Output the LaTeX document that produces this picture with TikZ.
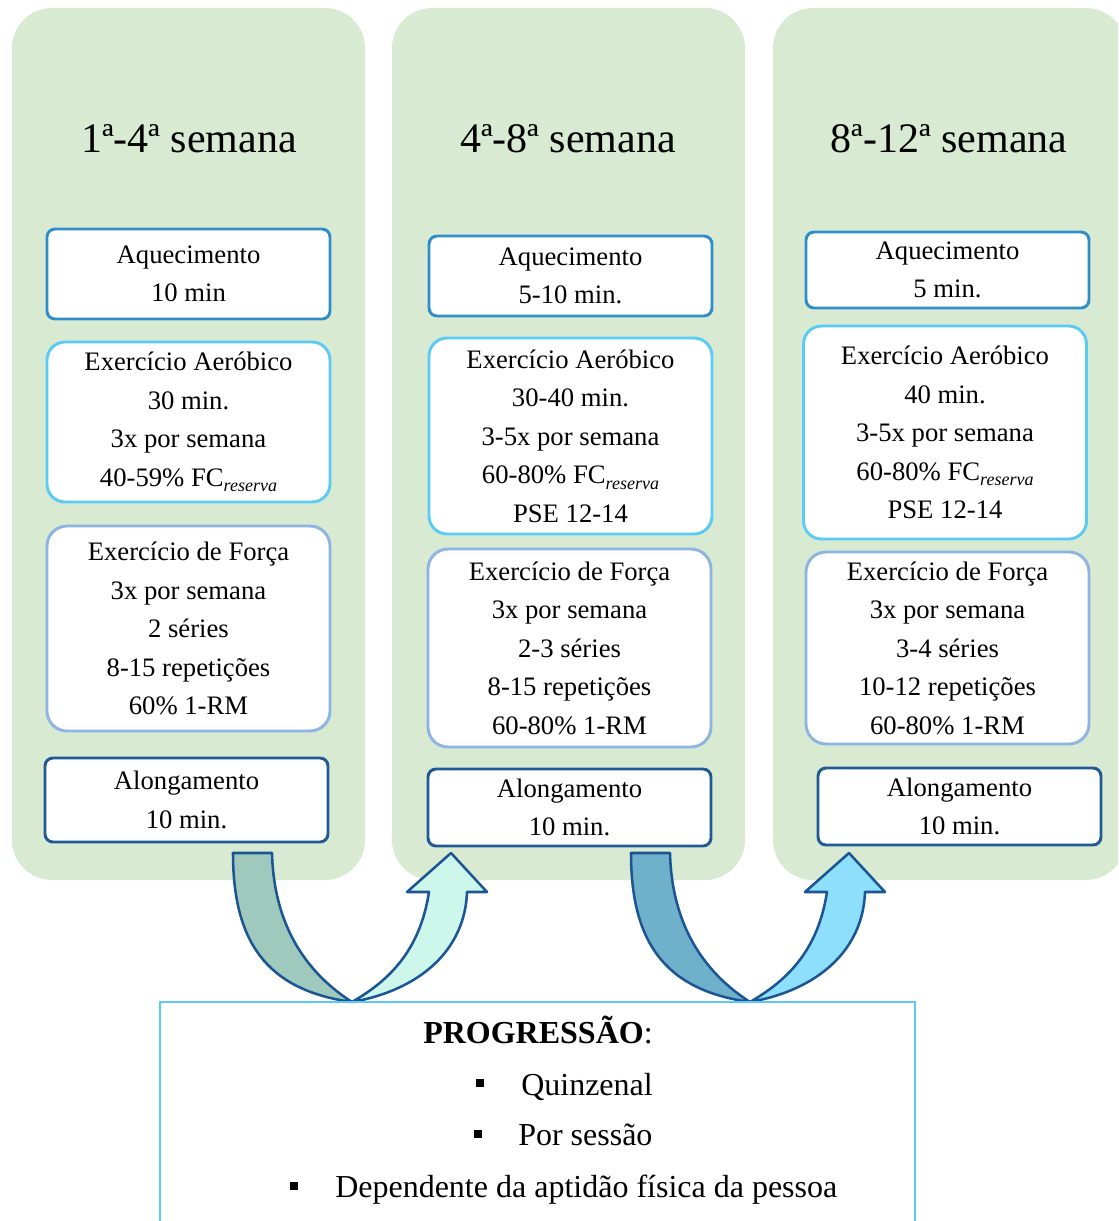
\documentclass[tikz,border=0pt]{standalone}
\usepackage{fontspec}
\setmainfont{Liberation Serif}
\definecolor{colgreen}{HTML}{D9EAD3}
\definecolor{bdaq}{HTML}{2F8DC8}
\definecolor{bdae}{HTML}{5BCBF5}
\definecolor{bdfo}{HTML}{8DB4E2}
\definecolor{bdal}{HTML}{1F5A96}
\definecolor{arrowline}{HTML}{1B5594}
\definecolor{fillA}{HTML}{A0C9BE}
\definecolor{fillB}{HTML}{CCF7EA}
\definecolor{fillC}{HTML}{6FB1CB}
\definecolor{fillD}{HTML}{8EDFFC}
\definecolor{probd}{HTML}{5BC8F5}
\def\px{0.75pt}
\newcommand{\fcres}{FC\raisebox{-0.45ex}{\fontsize{13.5}{14}\selectfont\itshape reserva}}
\begin{document}
\begin{tikzpicture}[x=0.75pt,y=-0.75pt,
  column/.style={fill=colgreen, rounded corners=30pt},
  title/.style={anchor=base, inner sep=0pt, font=\fontsize{31.5}{36}\selectfont},
  card/.style={draw, fill=white, line width=2.2pt, align=center, inner sep=0pt,
    minimum width=283*\px, font=\fontsize{20}{28.9}\selectfont},
  aq/.style={card, draw=bdaq, rounded corners=6pt},
  ae/.style={card, draw=bdae, rounded corners=13.5pt},
  fo/.style={card, draw=bdfo, rounded corners=15pt},
  al/.style={card, draw=bdal, rounded corners=6pt},
  bigarrow/.style={draw=arrowline, line width=1.9pt, line join=round},
  probox/.style={draw=probd, fill=white, line width=1.6pt, inner sep=0pt},
  ptext/.style={anchor=base west, inner sep=0pt, font=\fontsize{24}{28}\selectfont},
  bullet/.style={fill=black, inner sep=0pt, minimum size=8*\px}]
\useasboundingbox (0,0) rectangle (1118,1221);
\clip (0,0) rectangle (1118,1221);

% week columns
\fill[column] (12,8) rectangle (365,880);
\fill[column] (392,8) rectangle (745,880);
\fill[column] (773,8) rectangle (1126,880);

% column titles
\node[title] (t1) at (189,152) {1ª-4ª semana};
\node[title] (t2) at (568,152) {4ª-8ª semana};
\node[title] (t3) at (949,152) {8ª-12ª semana};

% weeks 1-4
\node[aq, minimum height=90*\px] (aq1) at (188.5,274) {Aquecimento\\10 min};
\node[ae, minimum height=160*\px] (ae1) at (188.5,422)
  {Exercício Aeróbico\\30 min.\\3x por semana\\40-59\% \fcres};
\node[fo, minimum height=205*\px] (fo1) at (188.5,628.5)
  {Exercício de Força\\3x por semana\\2 séries\\8-15 repetições\\60\% 1-RM};
\node[al, minimum height=84*\px] (al1) at (186.5,800) {Alongamento\\10 min.};

% weeks 4-8
\node[aq, minimum height=80*\px] (aq2) at (570.5,276) {Aquecimento\\5-10 min.};
\node[ae, minimum height=196*\px] (ae2) at (570.5,436)
  {Exercício Aeróbico\\30-40 min.\\3-5x por semana\\60-80\% \fcres\\PSE 12-14};
\node[fo, minimum height=198*\px] (fo2) at (569.5,648)
  {Exercício de Força\\3x por semana\\2-3 séries\\8-15 repetições\\60-80\% 1-RM};
\node[al, minimum height=77*\px] (al2) at (569.5,807.5) {Alongamento\\10 min.};

% weeks 8-12
\node[aq, minimum height=76*\px] (aq3) at (947.5,270) {Aquecimento\\5 min.};
\node[ae, minimum height=213*\px] (ae3) at (945,432.5)
  {Exercício Aeróbico\\40 min.\\3-5x por semana\\60-80\% \fcres\\PSE 12-14};
\node[fo, minimum height=192*\px] (fo3) at (947.5,648)
  {Exercício de Força\\3x por semana\\3-4 séries\\10-12 repetições\\60-80\% 1-RM};
\node[al, minimum height=77*\px] (al3) at (959.5,806.5) {Alongamento\\10 min.};

% curved transition arrows
\foreach \dx/\fdown/\fup in {0/fillA/fillB, 398/fillC/fillD}{
  \begin{scope}[xshift=\dx*\px]
    \draw[bigarrow, fill=\fdown] (233,853) -- (272,853)
      .. controls (274,930) and (310,975) .. (352,1002)
      .. controls (265,990) and (233,940) .. (233,853) -- cycle;
    \draw[bigarrow, fill=\fup] (352,1002)
      .. controls (420,990) and (465,950) .. (467,892)
      -- (487,892) -- (451,853) -- (407,892) -- (429,892)
      .. controls (420,950) and (390,980) .. (352,1002) -- cycle;
  \end{scope}
}

% progression box
\node[probox, minimum width=755*\px, minimum height=228*\px] (prog) at (537.5,1116) {};
\node[ptext] (ph) at (423,1043) {\textbf{PROGRESSÃO}:};
\node[bullet] (b1) at (480,1083) {};
\node[ptext] (p1) at (521,1095) {Quinzenal};
\node[bullet] (b2) at (478,1134) {};
\node[ptext] (p2) at (518,1145) {Por sessão};
\node[bullet] (b3) at (294,1186) {};
\node[ptext] (p3) at (335,1197) {Dependente da aptidão física da pessoa};
\end{tikzpicture}
\end{document}
